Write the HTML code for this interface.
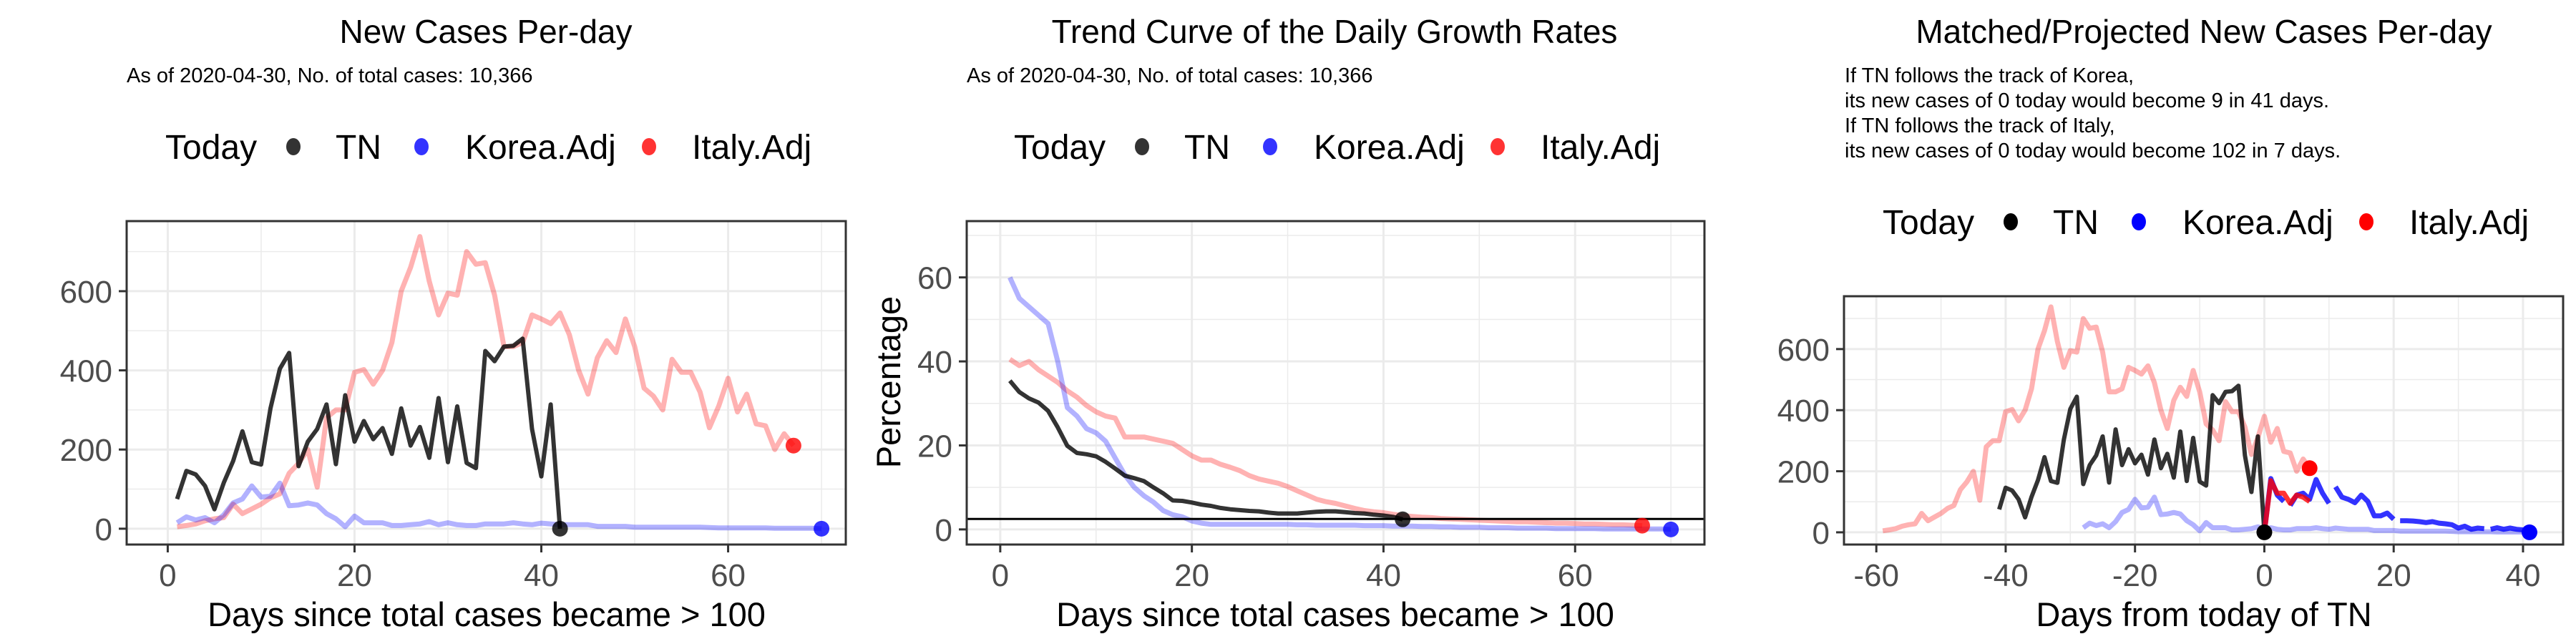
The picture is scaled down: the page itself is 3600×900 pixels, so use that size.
<!DOCTYPE html>
<html><head><meta charset="utf-8">
<style>
html,body{margin:0;padding:0;background:#fff;}
svg{display:block;font-family:"Liberation Sans",Arial,sans-serif;}
</style></head>
<body>
<svg id="chart" width="3600" height="900" viewBox="0 0 3600 900" xmlns="http://www.w3.org/2000/svg"></svg>
<script>
// ---------- data ----------
const tnCases = [75,146,137,108,49,116,171,246,168,162,304,404,444,158,220,252,314,163,337,220,272,226,254,189,304,210,257,179,330,168,309,166,153,449,423,460,462,480,252,132,314,0];
const italyCases = [5,8,12,20,25,28,62,38,50,62,78,88,140,165,200,105,280,300,300,395,402,365,400,470,600,660,738,625,540,595,590,700,668,672,590,460,460,470,540,530,518,545,490,400,340,432,475,445,530,460,355,335,300,428,395,395,345,255,310,380,295,340,265,260,200,240,210];
const koreaCases = [15,30,22,28,15,35,65,75,108,80,82,115,58,60,65,60,38,25,5,32,15,15,15,8,8,10,12,18,10,15,10,8,8,12,12,12,15,12,10,14,12,10,10,10,10,6,6,6,6,4,4,4,4,4,4,4,4,3,2,2,2,2,2,2,1,1,1,1,1,0];
const tnRate = [35.4,32.7,31.2,30.2,28.2,24.3,19.9,18.2,17.9,17.4,16.1,14.5,12.8,12.2,11.5,10,8.6,6.9,6.8,6.4,5.9,5.6,5.1,4.8,4.6,4.4,4.3,4.0,3.8,3.8,3.8,4.0,4.2,4.3,4.3,4.1,3.9,3.8,3.5,3.3,3.0,2.4];
const koreaRate = [60,55,53,51,49,40,29,27,24,23,21,17,13,10,8,6.5,4.5,3.5,3,2,1.5,1.2,1.2,1.2,1.2,1.2,1.2,1.2,1.2,1.2,1.1,1.1,1,1,1,1,1,0.9,0.9,0.9,0.8,0.8,0.8,0.7,0.7,0.6,0.6,0.5,0.5,0.5,0.4,0.4,0.4,0.3,0.3,0.3,0.3,0.2,0.2,0.2,0.2,0.2,0.1,0.1,0.1,0.1,0.1,0.1,0.1,0];
const italyRate = [40.5,39,40,38,36.5,35,33,31.5,29.5,28,27,26.5,22,22,22,21.5,21,20.5,19,17.5,16.5,16.5,15.5,14.8,14,12.8,12,11.5,11,10.2,9.2,8.2,7.2,6.6,6.2,5.6,5,4.5,4.2,4,3.6,3.3,3.1,2.9,2.8,2.6,2.5,2.4,2.3,2.2,2.1,2.0,1.9,1.8,1.8,1.7,1.6,1.5,1.5,1.4,1.3,1.3,1.2,1.1,1.1,1.0,0.9];
const thresholdRate = 2.5;
const koreaProj = [0,176,122,101,88,122,128,108,173,128,95,149,115,108,97,122,101,54,54,63,43,38,38,37,35,32,35,30,28,25,14,20,10,14,12,10,15,10,14,10,8,9];
const koreaProjGapAfter = [3,10,20,34];
const italyProj = [0,169,128,128,95,122,115,101];
const tnShift = -42, koreaShift = -29, italyShift = -60;
const xTicks1 = [0,20,40,60], yTicks1 = [0,200,400,600];
const yTicks2 = [0,20,40,60];
const xTicks3 = [-60,-40,-20,0,20,40], yTicks3 = [0,200,400,600];

// ---------- helpers ----------
const NS = "http://www.w3.org/2000/svg";
const svg = document.getElementById("chart");
function mk(tag, attrs, parent){
  const e = document.createElementNS(NS, tag);
  for (const k in attrs) e.setAttribute(k, attrs[k]);
  (parent||svg).appendChild(e);
  return e;
}
function txt(s, attrs, parent){ const e = mk("text", attrs, parent); e.textContent = s; return e; }

function panel(cfg){
  const g = mk("g", {});
  
  
  const X = v => cfg.l + (v - cfg.xmin) / (cfg.xmax - cfg.xmin) * (cfg.r - cfg.l);
  const Y = v => cfg.b - (v - cfg.ymin) / (cfg.ymax - cfg.ymin) * (cfg.b - cfg.t);
  cfg.X = X; cfg.Y = Y;
  const grid = mk("g", {}, g);
  
  
  cfg.xMinor.forEach(v => mk("line", {x1:X(v),x2:X(v),y1:cfg.t,y2:cfg.b,stroke:"#ebebeb","stroke-width":1.5}, grid));
  cfg.yMinor.forEach(v => mk("line", {x1:cfg.l,x2:cfg.r,y1:Y(v),y2:Y(v),stroke:"#ebebeb","stroke-width":1.5}, grid));
  cfg.xTicks.forEach(v => mk("line", {x1:X(v),x2:X(v),y1:cfg.t,y2:cfg.b,stroke:"#ebebeb","stroke-width":3}, grid));
  cfg.yTicks.forEach(v => mk("line", {x1:cfg.l,x2:cfg.r,y1:Y(v),y2:Y(v),stroke:"#ebebeb","stroke-width":3}, grid));
  cfg.xTicks.forEach(v => {
    mk("line", {x1:X(v),x2:X(v),y1:cfg.b,y2:cfg.b+11,stroke:"#333","stroke-width":3}, g);
    const t = txt(String(v).replace("-", "-"), {x:X(v),y:cfg.b+58,"text-anchor":"middle","font-size":44,fill:"#4d4d4d"}, g);
    
    
  });
  cfg.yTicks.forEach(v => {
    mk("line", {x1:cfg.l-11,x2:cfg.l,y1:Y(v),y2:Y(v),stroke:"#333","stroke-width":3}, g);
    const t = txt(String(v), {x:cfg.l-20,y:Y(v)+16,"text-anchor":"end","font-size":44,fill:"#4d4d4d"}, g);
    
    
  });
  return g;
}
function line(cfg, g, xs, ys, color, width, name, gapAfter){
  let d = "", pen = false;
  for (let i = 0; i < ys.length; i++){
    if (ys[i] === null){ pen = false; continue; }
    d += (pen ? "L" : "M") + cfg.X(xs[i]).toFixed(1) + " " + cfg.Y(ys[i]).toFixed(1);
    pen = !(gapAfter && gapAfter.indexOf(xs[i]) >= 0);
  }
  const p = mk("path", {d:d, fill:"none", stroke:color, "stroke-width":width, "stroke-linejoin":"round"}, g);
  
  
  return p;
}
function dot(cfg, g, x, y, color, name){
  const c = mk("circle", {cx:cfg.X(x), cy:cfg.Y(y), r:11, fill:color}, g);
  
  
}
function frame(cfg, g){
  const f = mk("rect", {x:cfg.l,y:cfg.t,width:cfg.r-cfg.l,height:cfg.b-cfg.t,fill:"none",stroke:"#333","stroke-width":3}, g);
  
  
}
function legend(x0, y, solid, g){
  const lg = mk("g", {}, g);
  
  
  const t = txt("Today", {x:x0, y:y+17, "font-size":48}, lg);
  
  
  const items = [["TN", solid?"#000":"rgba(0,0,0,0.8)", 179, 238],["Korea.Adj", solid?"#00f":"rgba(0,0,255,0.8)", 358, 419],["Italy.Adj", solid?"#f00":"rgba(255,0,0,0.8)", 676, 736]];
  items.forEach(it => {
    const c = mk("ellipse", {cx:x0+it[2], cy:y, rx:10, ry:12, fill:it[1]}, lg);
    
    
    const l = txt(it[0], {x:x0+it[3], y:y+17, "font-size":48}, lg);
    
    
  });
}
const idx = (n, off) => Array.from({length:n}, (_, i) => i + 1 + off);

// ---------- panel 1 ----------
const c1 = {name:"new-cases-panel", l:177, r:1182, t:309, b:761, xmin:-4.4, xmax:72.6, ymin:-40, ymax:777,
  xTicks:xTicks1, yTicks:yTicks1, xMinor:[10,30,50,70], yMinor:[100,300,500,700]};
const g1 = panel(c1);
line(c1, g1, idx(italyCases.length,0), italyCases, "rgba(255,0,0,0.3)", 7, "italy-line");
line(c1, g1, idx(koreaCases.length,0), koreaCases, "rgba(0,0,255,0.3)", 7, "korea-line");
line(c1, g1, idx(tnCases.length,0), tnCases, "rgba(0,0,0,0.8)", 6, "tn-line");
dot(c1, g1, tnCases.length, tnCases[tnCases.length-1], "rgba(0,0,0,0.8)", "tn-today-dot");
dot(c1, g1, koreaCases.length, koreaCases[koreaCases.length-1], "rgba(0,0,255,0.8)", "korea-today-dot");
dot(c1, g1, italyCases.length, italyCases[italyCases.length-1], "rgba(255,0,0,0.8)", "italy-today-dot");
frame(c1, g1);
let e;
e = txt("New Cases Per-day", {x:679, y:60, "text-anchor":"middle", "font-size":46}, g1);
 
e = txt("As of 2020-04-30, No. of total cases: 10,366", {x:177, y:115, "font-size":29}, g1);
 
legend(231, 205, false, g1);
e = txt("Days since total cases became > 100", {x:680, y:875, "text-anchor":"middle", "font-size":47}, g1);
 

// ---------- panel 2 ----------
const c2 = {name:"growth-rate-panel", l:1351, r:2382, t:309, b:761, xmin:-3.5, xmax:73.5, ymin:-3.6, ymax:73.4,
  xTicks:xTicks1, yTicks:yTicks2, xMinor:[10,30,50,70], yMinor:[10,30,50,70]};
const g2 = panel(c2);
line(c2, g2, idx(italyRate.length,0), italyRate, "rgba(255,0,0,0.3)", 7, "italy-rate-line");
line(c2, g2, idx(koreaRate.length,0), koreaRate, "rgba(0,0,255,0.3)", 7, "korea-rate-line");
line(c2, g2, idx(tnRate.length,0), tnRate, "rgba(0,0,0,0.8)", 6, "tn-rate-line");
e = mk("line", {x1:c2.l, x2:c2.r, y1:c2.Y(thresholdRate), y2:c2.Y(thresholdRate), stroke:"#000", "stroke-width":3}, g2);
 
dot(c2, g2, tnRate.length, tnRate[tnRate.length-1], "rgba(0,0,0,0.8)", "tn-today-dot");
dot(c2, g2, koreaRate.length, koreaRate[koreaRate.length-1], "rgba(0,0,255,0.8)", "korea-today-dot");
dot(c2, g2, italyRate.length, italyRate[italyRate.length-1], "rgba(255,0,0,0.8)", "italy-today-dot");
frame(c2, g2);
e = txt("Trend Curve of the Daily Growth Rates", {x:1865, y:60, "text-anchor":"middle", "font-size":46}, g2);
 
e = txt("As of 2020-04-30, No. of total cases: 10,366", {x:1351, y:115, "font-size":29}, g2);
 
legend(1417, 205, false, g2);
e = txt("Percentage", {x:0, y:0, "text-anchor":"middle", "font-size":47, transform:"translate(1258,534) rotate(-90)"}, g2);
 
e = txt("Days since total cases became > 100", {x:1866, y:875, "text-anchor":"middle", "font-size":47}, g2);
 

// ---------- panel 3 ----------
const c3 = {name:"projected-cases-panel", l:2577, r:3582, t:414, b:761, xmin:-65, xmax:46.2, ymin:-40, ymax:773,
  xTicks:xTicks3, yTicks:yTicks3, xMinor:[-50,-30,-10,10,30], yMinor:[100,300,500,700]};
const g3 = panel(c3);
line(c3, g3, idx(italyCases.length,italyShift), italyCases, "rgba(255,0,0,0.3)", 7, "italy-matched-line");
line(c3, g3, idx(koreaCases.length,koreaShift), koreaCases, "rgba(0,0,255,0.3)", 7, "korea-matched-line");
line(c3, g3, idx(tnCases.length,tnShift), tnCases, "rgba(0,0,0,0.8)", 6, "tn-line");
line(c3, g3, idx(koreaProj.length,-1), koreaProj, "rgba(0,0,255,0.8)", 7, "korea-projection-line", koreaProjGapAfter);
line(c3, g3, idx(italyProj.length,-1), italyProj, "rgba(255,0,0,0.8)", 7, "italy-projection-line");
dot(c3, g3, 0, tnCases[tnCases.length-1], "#000", "tn-today-dot");
dot(c3, g3, koreaCases.length+koreaShift, koreaCases[koreaCases.length-1], "#00f", "korea-today-dot");
dot(c3, g3, italyCases.length+italyShift, italyCases[italyCases.length-1], "#f00", "italy-today-dot");
frame(c3, g3);
e = txt("Matched/Projected New Cases Per-day", {x:3080, y:60, "text-anchor":"middle", "font-size":46}, g3);
 
["If TN follows the track of Korea,","its new cases of 0 today would become 9 in 41 days.","If TN follows the track of Italy,","its new cases of 0 today would become 102 in 7 days."].forEach((s,i) => {
  const t = txt(s, {x:2578, y:115+i*35, "font-size":29}, g3);
  
  
});
legend(2631, 310, true, g3);
e = txt("Days from today of TN", {x:3080, y:875, "text-anchor":"middle", "font-size":47}, g3);
 
</script>
</body></html>
